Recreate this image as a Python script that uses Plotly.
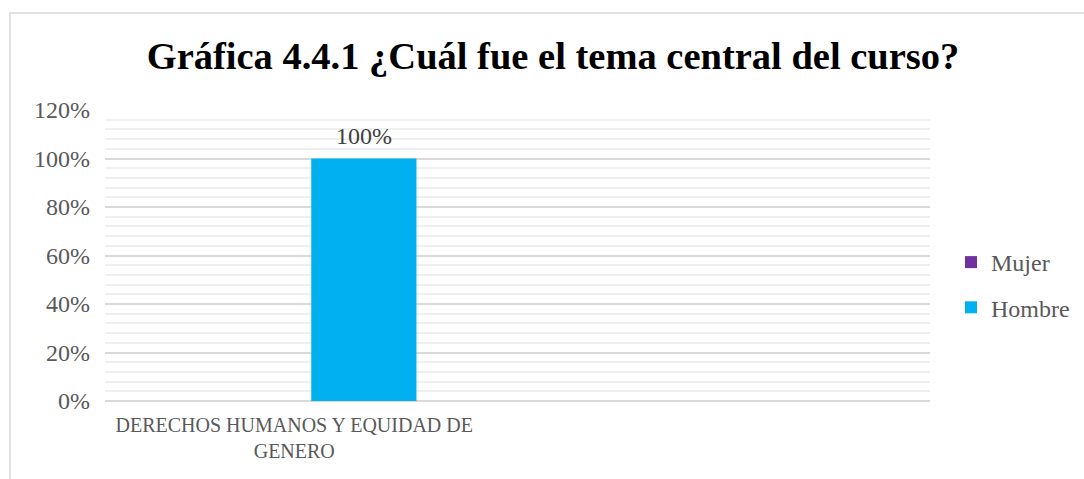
import plotly.graph_objects as go

categories = ["DERECHOS HUMANOS Y EQUIDAD DE<br>GENERO", " "]
mujer = [0.0, None]
hombre = [1.0, None]
series_names = ["Mujer", "Hombre"]
hombre_labels = ["100%", ""]
tick_vals = [0, 0.2, 0.4, 0.6, 0.8, 1.0, 1.2]
title_text = "Gráfica 4.4.1 ¿Cuál fue el tema central del curso?"

FONT = "Liberation Serif"
GREY = "#595959"
BARGAP = 0.49

L, R, T, B = 105, 154, 110, 78
W, H = 1084, 479
pw, ph = W - L - R, H - T - B

def px_x(x):
    return (x - L) / pw

def px_y(y):
    return (H - B - y) / ph

fig = go.Figure()
fig.add_trace(go.Bar(
    x=categories, y=mujer, name=series_names[0], legendgroup="m",
    marker=dict(color="#7030A0", line=dict(width=0)),
))
fig.add_trace(go.Bar(
    x=categories, y=hombre, name=series_names[1], legendgroup="h",
    marker=dict(color="#00B0F0", line=dict(width=0)),
))

# data label for the Hombre bar (offset to the Hombre slot of the group)
hombre_shift = (pw / len(categories)) * (1 - BARGAP) / 4
for c, v, t in zip(categories, hombre, hombre_labels):
    if v is not None and t:
        fig.add_annotation(x=c, y=v, xref="x", yref="y", text=t, showarrow=False,
                           xshift=hombre_shift, yanchor="bottom", yshift=8,
                           font=dict(family=FONT, size=24, color="#404040"))

fig.update_layout(
    width=W, height=H,
    margin=dict(l=L, r=R, t=T, b=B, autoexpand=False),
    paper_bgcolor="white", plot_bgcolor="white",
    barmode="group", bargap=BARGAP, bargroupgap=0,
    title=dict(text="<b>" + title_text + "</b>", x=553 / W, xref="container", xanchor="center",
               y=1 - 56 / H, yref="container", yanchor="middle",
               font=dict(family=FONT, size=38.5, color="#000000")),
    showlegend=True,
    legend=dict(x=px_x(951), y=px_y(285), xanchor="left", yanchor="middle",
                orientation="v", traceorder="grouped", tracegroupgap=11,
                font=dict(family=FONT, size=24, color=GREY),
                itemwidth=30, bgcolor="rgba(0,0,0,0)"),
    xaxis=dict(showgrid=False, showline=False, ticks="", zeroline=False,
               tickfont=dict(family=FONT, size=20, color=GREY),
               ticklabelshift=-17, ticklabelstandoff=10, automargin=False),
    yaxis=dict(range=[0, 1.2], tickvals=tick_vals, tickformat=".0%",
               showgrid=True, gridcolor="#d9d9d9", gridwidth=1.5,
               zeroline=True, zerolinecolor="#d9d9d9", zerolinewidth=1.5,
               showline=False, ticks="", ticklabelstandoff=14,
               tickfont=dict(family=FONT, size=24, color=GREY),
               minor=dict(dtick=0.04, showgrid=True, gridcolor="#efefef", gridwidth=1.5),
               automargin=False),
    shapes=[dict(type="rect", xref="paper", yref="paper",
                 x0=px_x(10), x1=px_x(1095), y0=px_y(495), y1=px_y(13),
                 line=dict(color="#d9d9d9", width=1.5), fillcolor="rgba(0,0,0,0)", layer="below")],
)

fig.write_html("out.html", config={"displayModeBar": False},
               post_script="document.body.style.margin='0px';")
